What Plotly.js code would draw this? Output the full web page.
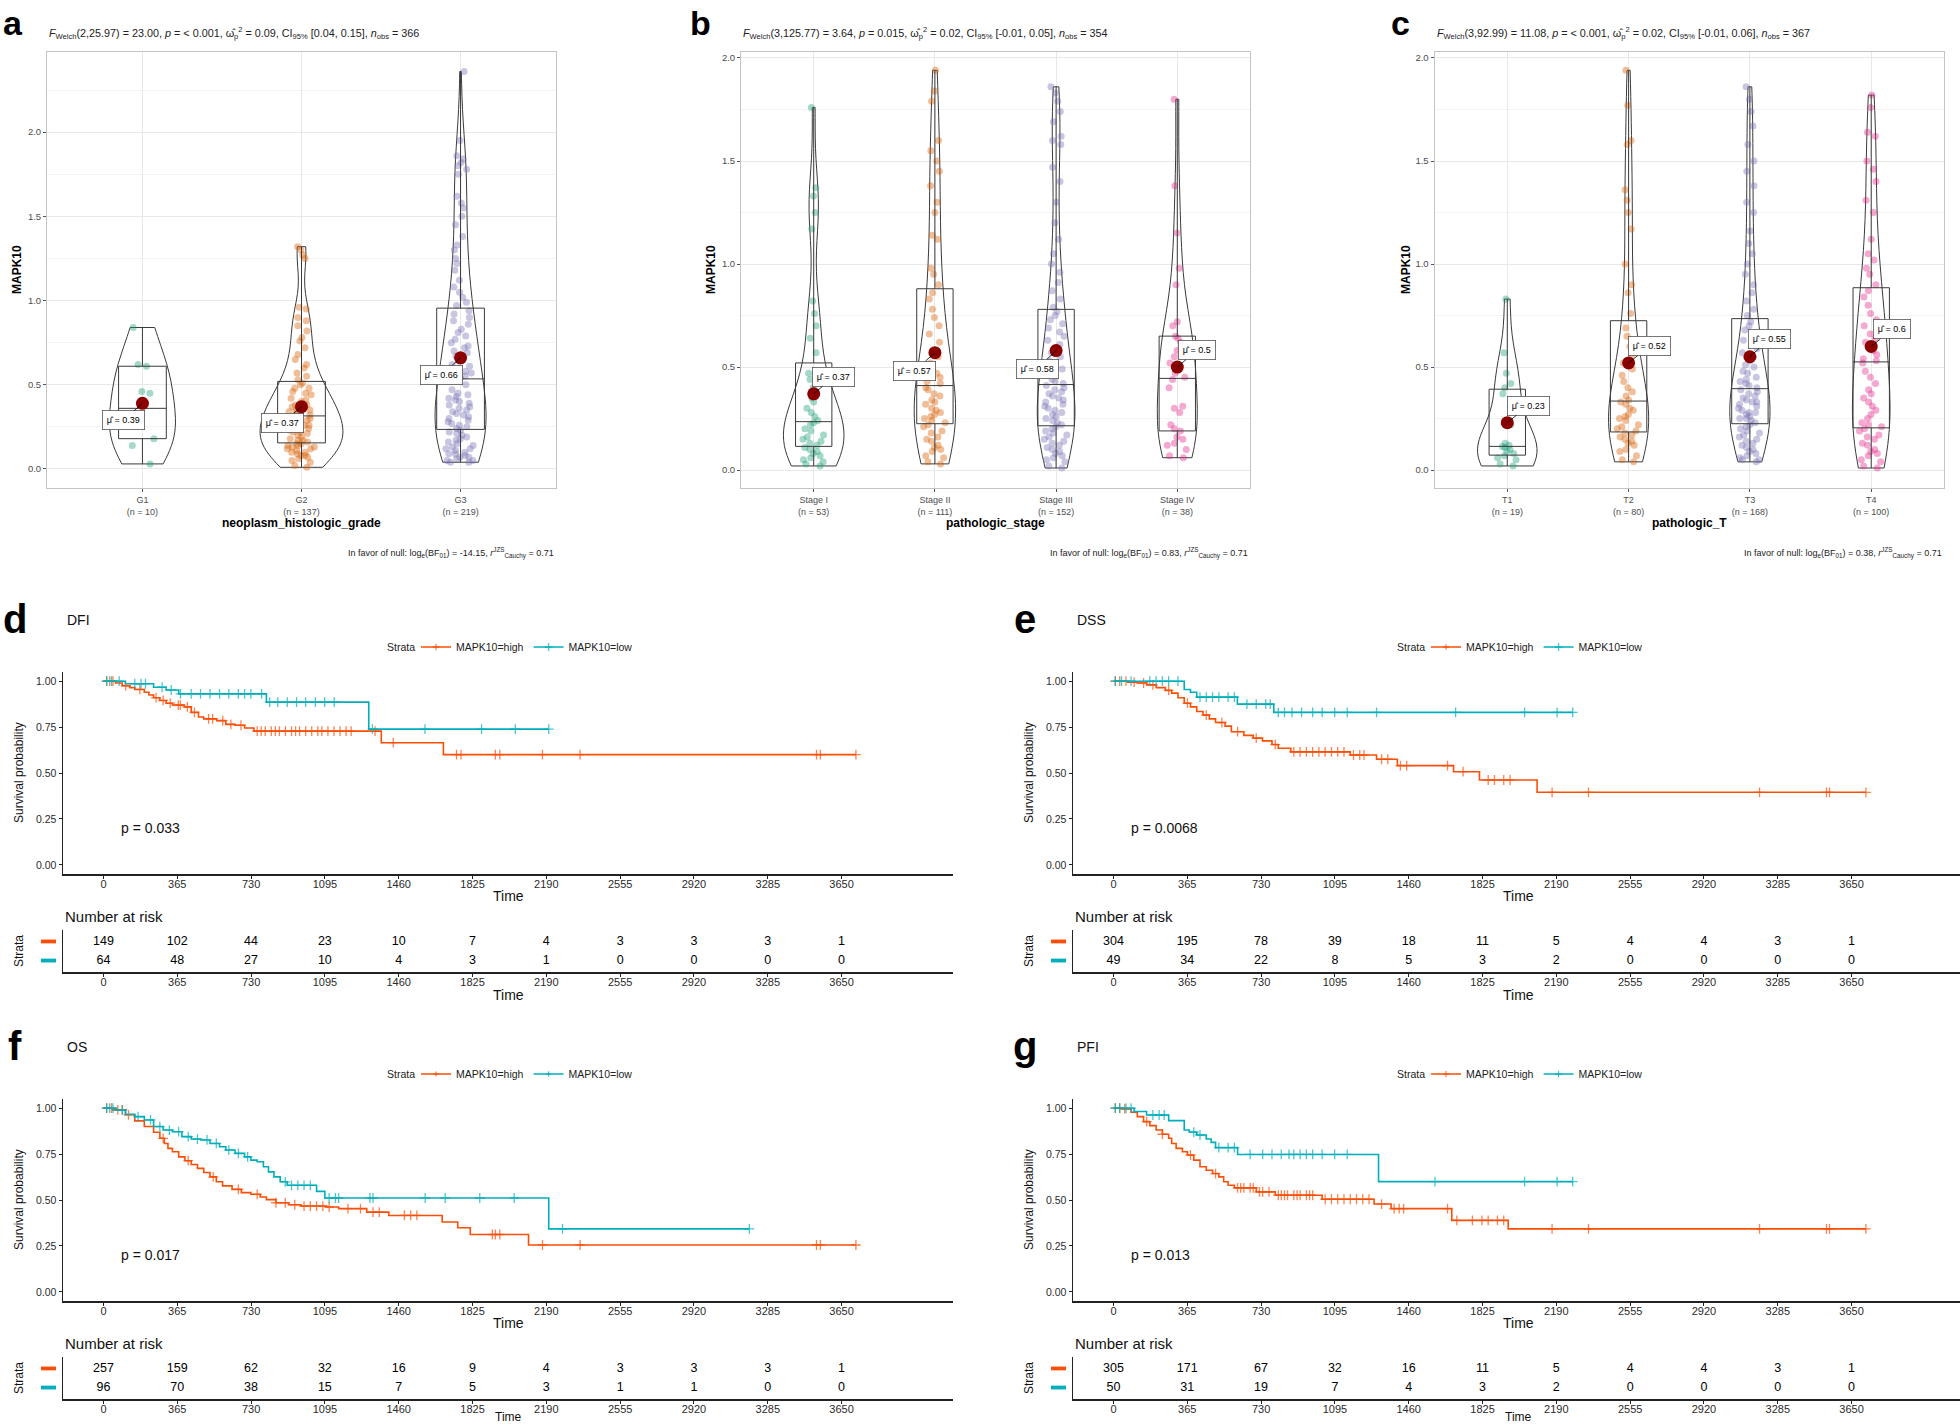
<!DOCTYPE html>
<html><head><meta charset="utf-8">
<script src="https://cdn.plot.ly/plotly-3.0.1.min.js"></script>
<style>html,body{margin:0;padding:0;background:#fff}#chart{width:1960px;height:1426px}</style>
</head><body><div id="chart"></div>
<script>
// ---------------- DATA: panels a-c (MAPK10 expression) ----------------
const gradeCats = ['G1', 'G2', 'G3'];
const gradeN = [10, 137, 219];
const gradeMeans = [0.39, 0.37, 0.66];
const gradeG1 = [0.03, 0.14, 0.18, 0.26, 0.27, 0.45, 0.46, 0.61, 0.62, 0.84];
const gradeG2 = [1.32, 1.30, 1.27, 1.25, 0.96, 0.95, 0.90, 0.88, 0.85, 0.82, 0.78, 0.76, 0.72, 0.68, 0.65, 0.62, 0.60, 0.57, 0.55, 0.53,
  0.51, 0.50, 0.48, 0.48, 0.46, 0.45, 0.44, 0.42, 0.41, 0.40, 0.38, 0.38, 0.37, 0.36, 0.35, 0.35, 0.34, 0.33, 0.33, 0.32,
  0.31, 0.30, 0.30, 0.29, 0.28, 0.27, 0.26, 0.26, 0.25, 0.24, 0.23, 0.22, 0.22, 0.21, 0.20, 0.19, 0.18, 0.17, 0.17, 0.16,
  0.15, 0.15, 0.14, 0.14, 0.13, 0.13, 0.12, 0.12, 0.11, 0.10, 0.10, 0.09, 0.08, 0.08, 0.07, 0.06, 0.05, 0.04, 0.02, 0.01];
const gradeG3 = [2.36, 1.95, 1.86, 1.84, 1.82, 1.80, 1.78, 1.75, 1.62, 1.58, 1.55, 1.50, 1.45, 1.38, 1.33, 1.30, 1.25, 1.22, 1.18, 1.12, 1.08, 1.05, 1.02, 0.99, 0.97,
  0.94, 0.92, 0.90, 0.88, 0.86, 0.83, 0.81, 0.79, 0.77, 0.75, 0.73, 0.72, 0.70, 0.69, 0.67, 0.66, 0.64, 0.62, 0.61, 0.60, 0.58, 0.57, 0.56, 0.55, 0.54,
  0.53, 0.50, 0.47, 0.45, 0.44, 0.43, 0.42, 0.41, 0.40, 0.39, 0.38, 0.37, 0.36, 0.35, 0.34, 0.33, 0.32, 0.31, 0.30, 0.29, 0.28, 0.27, 0.26, 0.25, 0.24,
  0.23, 0.22, 0.21, 0.20, 0.19, 0.18, 0.17, 0.16, 0.15, 0.14, 0.13, 0.12, 0.12, 0.11, 0.10, 0.09, 0.09, 0.08, 0.07, 0.07, 0.06, 0.05, 0.05, 0.04, 0.04];

const stageCats = ['Stage I', 'Stage II', 'Stage III', 'Stage IV'];
const stageN = [53, 111, 152, 38];
const stageMeans = [0.37, 0.57, 0.58, 0.5];
const stageI = [1.76, 1.37, 1.33, 1.25, 1.17, 0.82, 0.76, 0.70, 0.64, 0.57,
  0.47, 0.44, 0.40, 0.37, 0.35, 0.33, 0.30, 0.28, 0.26, 0.24,
  0.23, 0.22, 0.20, 0.19, 0.17, 0.16, 0.15, 0.14, 0.13, 0.12,
  0.11, 0.10, 0.09, 0.08, 0.07, 0.06, 0.05, 0.04, 0.03, 0.02];
const stageII = [1.94, 1.84, 1.79, 1.60, 1.55, 1.50, 1.45, 1.38, 1.30, 1.25, 1.14, 1.12, 0.98, 0.95, 0.90,
  0.86, 0.83, 0.78, 0.74, 0.70, 0.66, 0.62, 0.58, 0.55, 0.52, 0.50, 0.47, 0.45, 0.43, 0.42,
  0.40, 0.39, 0.37, 0.36, 0.34, 0.33, 0.32, 0.30, 0.29, 0.28, 0.27, 0.26, 0.25, 0.24, 0.23,
  0.22, 0.21, 0.19, 0.18, 0.16, 0.15, 0.14, 0.12, 0.11, 0.10, 0.09, 0.07, 0.06, 0.04, 0.03];
const stageIII = [1.86, 1.83, 1.79, 1.74, 1.69, 1.62, 1.60, 1.58, 1.47, 1.40, 1.30, 1.20, 1.12, 1.05, 1.00, 0.96, 0.91, 0.87, 0.83, 0.79,
  0.77, 0.75, 0.73, 0.71, 0.69, 0.67, 0.65, 0.63, 0.61, 0.59, 0.57, 0.55, 0.53, 0.51, 0.49, 0.47, 0.46, 0.44, 0.43, 0.42,
  0.41, 0.40, 0.39, 0.38, 0.37, 0.36, 0.35, 0.34, 0.33, 0.32, 0.31, 0.30, 0.29, 0.28, 0.27, 0.26, 0.25, 0.24, 0.23, 0.22,
  0.21, 0.20, 0.19, 0.18, 0.17, 0.16, 0.15, 0.14, 0.13, 0.12, 0.11, 0.10, 0.09, 0.08, 0.07, 0.06, 0.05, 0.04, 0.02, 0.01];
const stageIV = [0.06, 0.07, 0.10, 0.12, 0.13, 0.15, 0.16, 0.19, 0.20, 0.22, 0.28, 0.30, 0.31, 0.40, 0.44,
  0.45, 0.47, 0.52, 0.55, 0.58, 0.62, 0.64, 0.65, 0.70, 0.72, 0.90, 0.98, 1.15, 1.38, 1.80];

const tCats = ['T1', 'T2', 'T3', 'T4'];
const tN = [19, 80, 168, 100];
const tMeans = [0.23, 0.52, 0.55, 0.6];
const tT1 = [0.02, 0.03, 0.05, 0.06, 0.07, 0.08, 0.09, 0.10, 0.11, 0.115, 0.12, 0.13, 0.22, 0.37, 0.40, 0.42, 0.47, 0.57, 0.83];
const tT2 = [1.94, 1.77, 1.60, 1.58, 1.36, 1.31, 1.25, 1.17, 1.00, 0.90, 0.86, 0.76,
  0.69, 0.65, 0.60, 0.56, 0.52, 0.49, 0.46, 0.43, 0.40, 0.38, 0.36, 0.34,
  0.33, 0.32, 0.30, 0.29, 0.27, 0.26, 0.25, 0.24, 0.22, 0.21, 0.20, 0.19,
  0.18, 0.17, 0.16, 0.15, 0.14, 0.13, 0.12, 0.10, 0.09, 0.07, 0.05, 0.04];
const tT3 = [1.86, 1.80, 1.74, 1.67, 1.58, 1.50, 1.45, 1.38, 1.30, 1.25, 1.16, 1.10, 1.05, 1.00, 0.95, 0.90, 0.86, 0.82, 0.78, 0.75,
  0.72, 0.70, 0.68, 0.66, 0.63, 0.61, 0.59, 0.57, 0.55, 0.53, 0.51, 0.50, 0.48, 0.47, 0.45, 0.44, 0.43, 0.42, 0.41, 0.40,
  0.39, 0.38, 0.37, 0.36, 0.35, 0.34, 0.33, 0.33, 0.32, 0.31, 0.30, 0.29, 0.28, 0.28, 0.27, 0.26, 0.25, 0.25, 0.24, 0.23,
  0.22, 0.21, 0.20, 0.19, 0.18, 0.17, 0.16, 0.15, 0.14, 0.13, 0.12, 0.11, 0.10, 0.09, 0.08, 0.07, 0.06, 0.05, 0.05, 0.04];
const tT4 = [1.82, 1.76, 1.64, 1.62, 1.50, 1.46, 1.40, 1.31, 1.25, 1.12, 1.05, 1.02, 0.98, 0.95, 0.90,
  0.87, 0.84, 0.80, 0.76, 0.73, 0.70, 0.68, 0.66, 0.64, 0.62, 0.60, 0.58, 0.56, 0.54, 0.53,
  0.52, 0.48, 0.45, 0.42, 0.39, 0.37, 0.35, 0.33, 0.31, 0.29, 0.27, 0.25, 0.23, 0.22, 0.21,
  0.20, 0.19, 0.17, 0.16, 0.15, 0.13, 0.12, 0.10, 0.09, 0.08, 0.07, 0.05, 0.04, 0.02, 0.01];

const statsA = '<i>F</i><sub>Welch</sub>(2,25.97) = 23.00, <i>p</i> = < 0.001, \u03C9\u0302<sub>p</sub><sup>2</sup> = 0.09, CI<sub>95%</sub> [0.04, 0.15], <i>n</i><sub>obs</sub> = 366';
const statsB = '<i>F</i><sub>Welch</sub>(3,125.77) = 3.64, <i>p</i> = 0.015, \u03C9\u0302<sub>p</sub><sup>2</sup> = 0.02, CI<sub>95%</sub> [-0.01, 0.05], <i>n</i><sub>obs</sub> = 354';
const statsC = '<i>F</i><sub>Welch</sub>(3,92.99) = 11.08, <i>p</i> = < 0.001, \u03C9\u0302<sub>p</sub><sup>2</sup> = 0.02, CI<sub>95%</sub> [-0.01, 0.06], <i>n</i><sub>obs</sub> = 367';
const bfA = 'In favor of null: log<sub>e</sub>(BF<sub>01</sub>) = -14.15, <i>r</i><sup>JZS</sup><sub>Cauchy</sub> = 0.71';
const bfB = 'In favor of null: log<sub>e</sub>(BF<sub>01</sub>) = 0.83, <i>r</i><sup>JZS</sup><sub>Cauchy</sub> = 0.71';
const bfC = 'In favor of null: log<sub>e</sub>(BF<sub>01</sub>) = 0.38, <i>r</i><sup>JZS</sup><sub>Cauchy</sub> = 0.71';

// ---------------- DATA: panels d-g (Kaplan-Meier) ----------------
const timeTicks = [0, 365, 730, 1095, 1460, 1825, 2190, 2555, 2920, 3285, 3650];
const strataNames = ['MAPK10=high', 'MAPK10=low'];

const dfiHighT = [0, 60, 93, 130, 155, 202, 225, 248, 279, 310, 341, 400, 434, 470, 496, 560, 605, 650, 698, 744, 1374, 1681, 3721];
const dfiHighS = [1, 0.99, 0.975, 0.965, 0.955, 0.94, 0.925, 0.91, 0.895, 0.88, 0.87, 0.86, 0.83, 0.805, 0.795, 0.785, 0.765, 0.76, 0.745, 0.728, 0.665, 0.60, 0.60];
const dfiHighCens = [16, 31, 47, 110, 180, 260, 295, 330, 370, 380, 415, 450, 520, 540, 590, 630, 680, 760, 780, 800, 830, 850, 870, 900, 930, 950, 970, 1000, 1030, 1060, 1080, 1110, 1140, 1170, 1200, 1225, 1343, 1433, 1746, 1768, 1938, 1960, 2171, 2357, 3526, 3545, 3721];
const dfiLowT = [0, 108, 248, 310, 372, 806, 1312, 2202];
const dfiLowS = [1, 0.986, 0.967, 0.952, 0.931, 0.886, 0.739, 0.739];
const dfiLowCens = [16, 40, 78, 155, 186, 208, 290, 335, 381, 434, 480, 527, 574, 620, 667, 698, 729, 782, 822, 862, 909, 955, 1000, 1048, 1094, 1141, 1330, 1590, 1870, 2037, 2202];
const dfiRiskHigh = [149, 102, 44, 23, 10, 7, 4, 3, 3, 3, 1];
const dfiRiskLow = [64, 48, 27, 10, 4, 3, 1, 0, 0, 0, 0];

const dssHighT = [0, 71, 118, 164, 211, 257, 288, 319, 350, 381, 412, 443, 474, 505, 552, 583, 645, 691, 737, 784, 815, 877, 1171, 1301, 1404, 1682, 1810, 2095, 3721];
const dssHighS = [1, 0.995, 0.99, 0.98, 0.965, 0.95, 0.935, 0.91, 0.88, 0.86, 0.835, 0.815, 0.795, 0.775, 0.755, 0.725, 0.705, 0.69, 0.675, 0.655, 0.635, 0.615, 0.598, 0.575, 0.54, 0.507, 0.462, 0.395, 0.395];
const dssHighCens = [9, 31, 62, 102, 149, 195, 273, 366, 459, 536, 614, 706, 800, 892, 923, 954, 985, 1016, 1047, 1078, 1109, 1140, 1187, 1218, 1239, 1326, 1357, 1419, 1450, 1652, 1729, 1853, 1884, 1930, 1961, 2169, 2349, 3195, 3526, 3541, 3721];
const dssLowT = [0, 350, 381, 412, 613, 793, 2271];
const dssLowS = [1, 0.955, 0.94, 0.913, 0.875, 0.83, 0.83];
const dssLowCens = [9, 40, 87, 180, 211, 242, 273, 319, 428, 459, 490, 521, 567, 598, 660, 706, 753, 775, 815, 846, 883, 930, 985, 1032, 1094, 1156, 1301, 1692, 2033, 2194, 2271];
const dssRiskHigh = [304, 195, 78, 39, 18, 11, 5, 4, 4, 3, 1];
const dssRiskLow = [49, 34, 22, 8, 5, 3, 2, 0, 0, 0, 0];

const osHighT = [0, 47, 109, 155, 202, 248, 279, 301, 319, 341, 372, 403, 434, 465, 496, 527, 558, 589, 636, 682, 729, 775, 806, 853, 915, 977, 1101, 1163, 1302, 1411, 1675, 1752, 1814, 2102, 3721];
const osHighS = [1, 0.991, 0.964, 0.931, 0.900, 0.869, 0.836, 0.808, 0.781, 0.763, 0.735, 0.714, 0.693, 0.672, 0.650, 0.626, 0.599, 0.577, 0.558, 0.540, 0.531, 0.516, 0.502, 0.485, 0.474, 0.467, 0.462, 0.453, 0.434, 0.416, 0.380, 0.349, 0.312, 0.255, 0.255];
const osHighCens = [16, 40, 71, 93, 124, 295, 419, 543, 667, 760, 853, 899, 946, 992, 1023, 1054, 1085, 1116, 1209, 1271, 1333, 1364, 1488, 1519, 1550, 1923, 1938, 1960, 2171, 2357, 3526, 3545, 3721];
const osLowT = [0, 62, 109, 155, 202, 248, 295, 341, 388, 434, 481, 527, 574, 605, 651, 698, 729, 760, 791, 816, 843, 874, 909, 1054, 1095, 2202, 3194];
const osLowS = [1, 0.989, 0.967, 0.954, 0.936, 0.9, 0.881, 0.872, 0.845, 0.832, 0.827, 0.808, 0.790, 0.772, 0.754, 0.735, 0.717, 0.708, 0.681, 0.653, 0.626, 0.599, 0.580, 0.547, 0.511, 0.343, 0.343];
const osLowCens = [16, 31, 47, 93, 171, 233, 279, 326, 372, 419, 465, 512, 558, 620, 667, 713, 899, 930, 961, 992, 1023, 1116, 1147, 1163, 1318, 1333, 1591, 1690, 1861, 2031, 2270, 3194];
const osRiskHigh = [257, 159, 62, 32, 16, 9, 4, 3, 3, 3, 1];
const osRiskLow = [96, 70, 38, 15, 7, 5, 3, 1, 1, 0, 0];

const pfiHighT = [0, 40, 87, 118, 149, 180, 211, 242, 273, 288, 310, 341, 366, 397, 428, 459, 490, 521, 545, 567, 598, 706, 800, 1032, 1289, 1373, 1673, 1952, 3721];
const pfiHighS = [1, 0.996, 0.978, 0.954, 0.927, 0.905, 0.881, 0.858, 0.836, 0.808, 0.781, 0.763, 0.745, 0.717, 0.681, 0.662, 0.644, 0.626, 0.599, 0.580, 0.566, 0.544, 0.526, 0.504, 0.478, 0.453, 0.389, 0.343, 0.343];
const pfiHighCens = [9, 31, 56, 164, 242, 381, 505, 614, 629, 645, 676, 691, 722, 738, 769, 815, 830, 846, 861, 892, 908, 923, 954, 970, 985, 1047, 1078, 1109, 1140, 1171, 1202, 1233, 1264, 1326, 1388, 1413, 1435, 1652, 1698, 1775, 1822, 1853, 1899, 1930, 2169, 2349, 3195, 3526, 3541, 3721];
const pfiLowT = [0, 102, 164, 273, 350, 375, 412, 459, 483, 505, 614, 1311, 2271];
const pfiLowS = [1, 0.982, 0.963, 0.932, 0.881, 0.870, 0.854, 0.832, 0.814, 0.785, 0.748, 0.600, 0.600];
const pfiLowCens = [9, 31, 62, 87, 195, 226, 251, 397, 428, 521, 567, 598, 676, 738, 784, 830, 868, 892, 923, 954, 985, 1032, 1094, 1156, 1590, 2033, 2194, 2271];
const pfiRiskHigh = [305, 171, 67, 32, 16, 11, 5, 4, 4, 3, 1];
const pfiRiskLow = [50, 31, 19, 7, 4, 3, 2, 0, 0, 0, 0];

// ---------------- STYLE / LAYOUT ----------------
const W = 1960, H = 1426;
const FONT = 'Liberation Sans, Arial, Helvetica, sans-serif';
const px = v => v / W;
const py = v => 1 - v / H;
const GROUP_COLORS = ['#1B9E77', '#D95F02', '#7570B3', '#E7298A'];
const HIGH = '#FC4E07', LOW = '#00AFBB';

const traces = [];
const layout = {
  width: W, height: H, margin: {l: 0, r: 0, t: 0, b: 0},
  paper_bgcolor: '#ffffff', plot_bgcolor: '#ffffff',
  font: {family: FONT, size: 10, color: '#000'},
  showlegend: true, annotations: [], shapes: []
};
function ann(x, y, text, o) {
  layout.annotations.push(Object.assign({xref: 'paper', yref: 'paper', x: px(x), y: py(y), text: text,
    showarrow: false, xanchor: 'left', yanchor: 'middle', font: {size: 10, color: '#000', family: FONT}}, o || {}));
}
function f(size, color, weight) { return {size: size, color: color || '#111', family: FONT, weight: weight || 'normal'}; }

function violinPanel(k, cfg) {
  const s = k === 1 ? '' : String(k);
  const xa = 'x' + s, ya = 'y' + s;
  const cats = cfg.cats;
  cfg.groups.forEach((g, i) => {
    const xs = g.map(() => cats[i]);
    traces.push({type: 'box', x: xs, y: g, xaxis: xa, yaxis: ya, boxpoints: 'all', jitter: 1, pointpos: 0, width: 0.2,
      fillcolor: 'rgba(0,0,0,0)', line: {width: 0, color: 'rgba(0,0,0,0)'}, whiskerwidth: 0,
      marker: {color: GROUP_COLORS[i], opacity: 0.4, size: 7}, showlegend: false, hoverinfo: 'skip'});
    traces.push({type: 'violin', x: xs, y: g, xaxis: xa, yaxis: ya, width: cfg.vw[i], spanmode: 'hard', scalemode: 'width',
      points: false, box: {visible: false}, meanline: {visible: false}, fillcolor: 'rgba(0,0,0,0)',
      line: {color: '#3a3a3a', width: 1}, showlegend: false, hoverinfo: 'skip'});
    traces.push({type: 'box', x: xs, y: g, xaxis: xa, yaxis: ya, boxpoints: false, width: 0.3, whiskerwidth: 0,
      fillcolor: 'rgba(255,255,255,0)', line: {color: '#3a3a3a', width: 1}, showlegend: false, hoverinfo: 'skip'});
  });
  traces.push({type: 'scatter', mode: 'markers', x: cats, y: cfg.means, xaxis: xa, yaxis: ya,
    marker: {color: '#8B0000', size: 13}, showlegend: false, hoverinfo: 'skip'});
  cfg.means.forEach((m, i) => {
    layout.annotations.push({xref: xa, yref: ya, x: cats[i], y: m, text: '\u03BC\u0302 = ' + m,
      showarrow: true, arrowhead: 0, arrowwidth: 0.8, arrowcolor: '#000', ax: cfg.offs[i][0], ay: cfg.offs[i][1],
      bgcolor: '#ffffff', bordercolor: '#555', borderwidth: 0.8, borderpad: 4, font: f(9, '#000')});
  });
  const L = cfg.left, R = cfg.right, T = 52, B = 488;
  layout['xaxis' + s] = {domain: [px(L), px(R)], anchor: ya, type: 'category', range: [-0.6, cats.length - 0.4],
    tickmode: 'array', tickvals: cats, ticktext: cats.map((c, i) => c + '<br>(n = ' + cfg.n[i] + ')'),
    tickfont: f(9, '#4D4D4D'), ticks: 'outside', ticklen: 3, tickcolor: '#555',
    showgrid: true, gridcolor: '#E8E8E8', showline: true, mirror: true, linecolor: '#C4C4C4', linewidth: 1, zeroline: false};
  layout['yaxis' + s] = {domain: [py(B), py(T)], anchor: xa, range: cfg.yr, tick0: 0, dtick: 0.5, tickformat: '.1f',
    tickfont: f(9.5, '#4D4D4D'), ticks: 'outside', ticklen: 3, tickcolor: '#555',
    showgrid: true, gridcolor: '#E8E8E8', minor: {tick0: 0, dtick: 0.25, showgrid: true, gridcolor: '#F3F3F3', ticks: ''},
    showline: true, mirror: true, linecolor: '#C4C4C4', linewidth: 1, zeroline: false};
  ann(cfg.letterX, 23, cfg.letter, {xanchor: 'center', font: f(34, '#000', 'bold')});
  ann(L, 33, cfg.stats, {font: f(10.8, '#222')});
  ann((L + R) / 2, 523, cfg.xtitle, {xanchor: 'center', font: f(12, '#000', 'bold')});
  ann(cfg.ytitleX, (T + B) / 2, 'MAPK10', {xanchor: 'center', textangle: -90, font: f(12, '#000', 'bold')});
  ann(R, 553, cfg.bf, {xanchor: 'right', font: f(9, '#222')});
}

violinPanel(1, {cats: gradeCats, n: gradeN, means: gradeMeans, groups: [gradeG1, gradeG2, gradeG3],
  vw: [0.415, 0.52, 0.32], offs: [[-19, 17], [-19, 16], [-19, 17]], left: 47, right: 556, yr: [-0.113, 2.476],
  letter: 'a', letterX: 13, stats: statsA, xtitle: 'neoplasm_histologic_grade', ytitleX: 17, bf: bfA});
violinPanel(2, {cats: stageCats, n: stageN, means: stageMeans, groups: [stageI, stageII, stageIII, stageIV],
  vw: [0.5, 0.34, 0.31, 0.33], offs: [[20, -17], [-20, 18], [-19, 18], [20, -17]], left: 741, right: 1250, yr: [-0.087, 2.029],
  letter: 'b', letterX: 700, stats: statsB, xtitle: 'pathologic_stage', ytitleX: 711, bf: bfB});
violinPanel(3, {cats: tCats, n: tN, means: tMeans, groups: [tT1, tT2, tT3, tT4],
  vw: [0.49, 0.33, 0.33, 0.31], offs: [[21, -17], [21, -17], [20, -18], [21, -17]], left: 1434.5, right: 1944, yr: [-0.087, 2.029],
  letter: 'c', letterX: 1400, stats: statsC, xtitle: 'pathologic_T', ytitleX: 1406, bf: bfC});

// ---------------- KM panels ----------------
function stepAt(ts, ss, c) {
  let v = ss[0];
  for (let i = 0; i < ts.length; i++) { if (ts[i] <= c) v = ss[i]; else break; }
  return v;
}
function kmCurve(ts, ss, cens, color, name, xa, ya, leg) {
  const pts = ts.map((t, i) => ({x: t, y: ss[i], c: 0}))
    .concat(cens.map(c => ({x: c, y: stepAt(ts, ss, c), c: 1})));
  pts.sort((a, b) => (a.x - b.x) || (a.c - b.c));
  traces.push({type: 'scatter', mode: 'lines+markers', name: name, legend: leg,
    x: pts.map(p => p.x), y: pts.map(p => p.y), xaxis: xa, yaxis: ya,
    line: {shape: 'hv', color: color, width: 1.6},
    marker: {symbol: 'cross-thin', size: pts.map(p => p.c ? 7 : 0), color: color, line: {color: color, width: 1.3}},
    hoverinfo: 'skip', cliponaxis: false});
}
function kmPanel(cfg) {
  const ox = cfg.ox, oy = cfg.oy;
  const a = String(cfg.k), r = String(cfg.k + 1);
  const right = Math.min(953 + ox, W);
  const xr = [-200, -200 + (right - (63 + ox)) * 4401 / 890];
  kmCurve(cfg.hT, cfg.hS, cfg.hC, HIGH, strataNames[0], 'x' + a, 'y' + a, cfg.leg);
  kmCurve(cfg.lT, cfg.lS, cfg.lC, LOW, strataNames[1], 'x' + a, 'y' + a, cfg.leg);
  traces.push({type: 'scatter', mode: 'text', x: timeTicks, y: timeTicks.map(() => 2), text: cfg.rH.map(String),
    xaxis: 'x' + r, yaxis: 'y' + r, textfont: f(12.5, '#000'), showlegend: false, hoverinfo: 'skip', cliponaxis: false});
  traces.push({type: 'scatter', mode: 'text', x: timeTicks, y: timeTicks.map(() => 1), text: cfg.rL.map(String),
    xaxis: 'x' + r, yaxis: 'y' + r, textfont: f(12.5, '#000'), showlegend: false, hoverinfo: 'skip', cliponaxis: false});
  const xCommon = {range: xr, tickmode: 'array', tickvals: timeTicks, ticktext: timeTicks.map(String),
    ticks: 'outside', ticklen: 3, tickcolor: '#222', tickfont: f(11, '#2a2a2a'), ticklabelstandoff: -4,
    showline: true, linecolor: '#222', linewidth: 1.5, showgrid: false, zeroline: false};
  layout['xaxis' + a] = Object.assign({domain: [px(63 + ox), px(right)], anchor: 'y' + a}, xCommon);
  layout['yaxis' + a] = {domain: [py(874 + oy), py(672 + oy)], anchor: 'x' + a, range: [-0.05, 1.05],
    tickmode: 'array', tickvals: [0, 0.25, 0.5, 0.75, 1], ticktext: ['0.00', '0.25', '0.50', '0.75', '1.00'],
    ticks: 'outside', ticklen: 3, tickcolor: '#222', tickfont: f(10.5, '#2a2a2a'),
    showline: true, linecolor: '#222', linewidth: 1.5, showgrid: false, zeroline: false};
  layout['xaxis' + r] = Object.assign({domain: [px(63 + ox), px(right)], anchor: 'y' + r}, xCommon);
  layout['yaxis' + r] = {domain: [py(972 + oy), py(930 + oy)], anchor: 'x' + r, range: [0.4, 2.6],
    showticklabels: false, ticks: '', showline: true, linecolor: '#222', linewidth: 1.5, showgrid: false, zeroline: false};
  layout[cfg.leg] = {orientation: 'h', x: px(416 + ox), y: py(647 + oy), xanchor: 'left', yanchor: 'middle',
    font: f(10.5, '#222'), bgcolor: 'rgba(0,0,0,0)', borderwidth: 0, itemwidth: 30, traceorder: 'normal'};
  ann(417 + ox, 647 + oy, 'Strata', {xanchor: 'right', font: f(10.5, '#222')});
  // colour keys of the risk table rows
  [[2, HIGH], [1, LOW]].forEach(([yv, col]) => {
    layout.shapes.push({type: 'rect', xref: 'paper', yref: 'y' + r, x0: px(41 + ox), x1: px(56 + ox),
      y0: yv - 0.1, y1: yv + 0.1, fillcolor: col, line: {width: 0}});
  });
  ann(15 + ox, 619 + oy, cfg.letter, {xanchor: 'center', font: f(40, '#000', 'bold')});
  ann(65 + ox, 620 + oy, cfg.title, {font: f(14, '#111')});
  ann(119 + ox, 828 + oy, 'p = ' + cfg.p, {font: f(14, '#111')});
  ann(19 + ox, 773 + oy, 'Survival probability', {xanchor: 'center', textangle: -90, font: f(12, '#111')});
  ann(508 + ox, 896 + oy, 'Time', {xanchor: 'center', font: f(14, '#111')});
  ann(63 + ox, 916 + oy, 'Number at risk', {font: f(15, '#111')});
  ann(19 + ox, 951 + oy, 'Strata', {xanchor: 'center', textangle: -90, font: f(12, '#111')});
  if (oy === 0) {
    ann(508 + ox, 995, 'Time', {xanchor: 'center', font: f(14, '#111')});
  } else {
    ann(508 + ox, H, 'Time', {xanchor: 'center', yanchor: 'bottom', font: f(12, '#111')});
  }
}

kmPanel({k: 4, ox: 0, oy: 0, leg: 'legend', letter: 'd', title: 'DFI', p: '0.033',
  hT: dfiHighT, hS: dfiHighS, hC: dfiHighCens, lT: dfiLowT, lS: dfiLowS, lC: dfiLowCens, rH: dfiRiskHigh, rL: dfiRiskLow});
kmPanel({k: 6, ox: 1010, oy: 0, leg: 'legend2', letter: 'e', title: 'DSS', p: '0.0068',
  hT: dssHighT, hS: dssHighS, hC: dssHighCens, lT: dssLowT, lS: dssLowS, lC: dssLowCens, rH: dssRiskHigh, rL: dssRiskLow});
kmPanel({k: 8, ox: 0, oy: 427, leg: 'legend3', letter: 'f', title: 'OS', p: '0.017',
  hT: osHighT, hS: osHighS, hC: osHighCens, lT: osLowT, lS: osLowS, lC: osLowCens, rH: osRiskHigh, rL: osRiskLow});
kmPanel({k: 10, ox: 1010, oy: 427, leg: 'legend4', letter: 'g', title: 'PFI', p: '0.013',
  hT: pfiHighT, hS: pfiHighS, hC: pfiHighCens, lT: pfiLowT, lS: pfiLowS, lC: pfiLowCens, rH: pfiRiskHigh, rL: pfiRiskLow});

Plotly.newPlot('chart', traces, layout, {staticPlot: true});
</script></body></html>
